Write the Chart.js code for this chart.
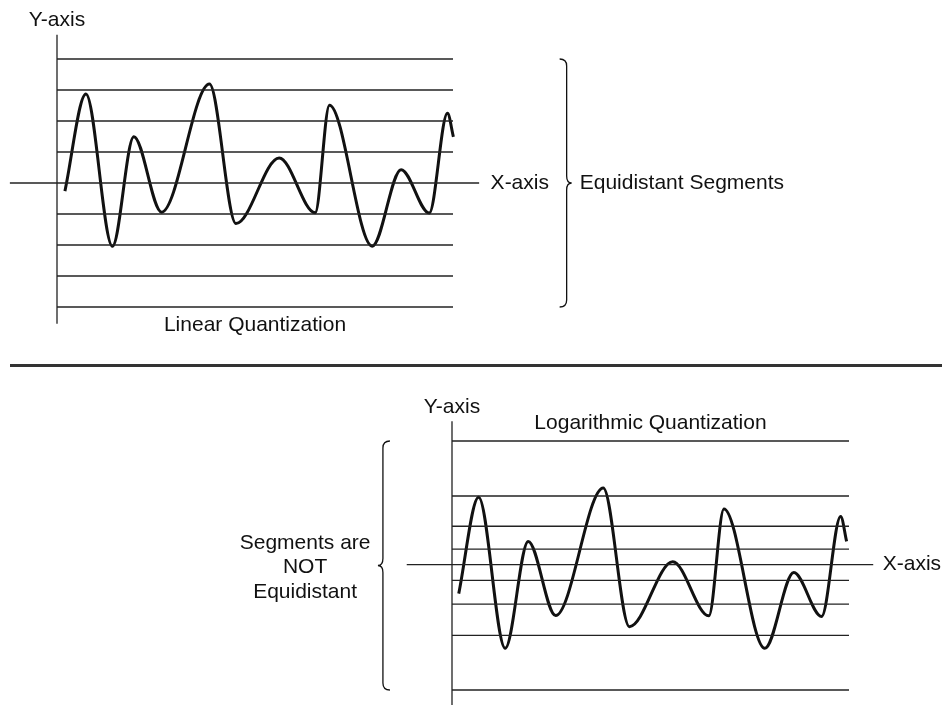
<!DOCTYPE html>
<html>
<head>
<meta charset="utf-8">
<title>Linear vs Logarithmic Quantization</title>
<script src="https://cdn.jsdelivr.net/npm/chart.js@4.4.1/dist/chart.umd.min.js"></script>
<style>
  html, body { margin: 0; padding: 0; background: #fff; }
  #wrap { position: relative; width: 942px; height: 705px; overflow: hidden; }
  .panel { position: absolute; left: 0; width: 942px; }
  #rule { position: absolute; left: 10px; top: 364px; width: 932px; height: 3px; background: #333; }
</style>
</head>
<body>
<div id="wrap">
  <div class="panel" style="top:0;height:372px"><canvas id="linChart"></canvas></div>
  <div id="rule"></div>
  <div class="panel" style="top:372px;height:333px"><canvas id="logChart"></canvas></div>
</div>
<script>
// Turning points of the sampled signal, time 0..10 spans the plot width
const linTimes  = [0.20, 0.73, 1.40, 1.94, 2.64, 3.85, 4.52, 5.61, 6.52, 6.88, 7.96, 8.69, 9.40, 9.86, 10.01];
const linValues = [-0.26, 2.87, -2.04, 1.49, -0.94, 3.19, -1.31, 0.81, -0.96, 2.51, -2.04, 0.43, -0.97, 2.25, 1.49];
// quantization levels (equidistant)
const linLevels = [4, 3, 2, 1, -1, -2, -3, -4];

const logTimes  = [0.17, 0.67, 1.34, 1.92, 2.61, 3.81, 4.47, 5.56, 6.47, 6.85, 7.88, 8.61, 9.31, 9.79, 9.94];
const logValues = [-0.94, 2.18, -2.71, 0.75, -1.65, 2.48, -2.01, 0.09, -1.66, 1.80, -2.71, -0.26, -1.68, 1.56, 0.75];
// quantization levels (not equidistant)
const logLevels = [4, 2.22, 1.24, 0.5, -0.51, -1.28, -2.29, -4.06];

const FONT = '21px "Liberation Sans", Arial, Helvetica, sans-serif';
const INK = '#111';

function pts(xs, ys) {
    return xs.map((x, i) => ({ x: x, y: ys[i] }));
}

// one straight segment in data units
function segment(a, b, width, color) {
    return { data: [a, b], borderColor: color, borderWidth: width, clip: false, tension: 0 };
}

// curly brace, tip pointing "dir" (1 = right, -1 = left)
function drawBrace(ctx, x, y1, y2, dir) {
    const r = 7, mid = (y1 + y2) / 2;
    ctx.beginPath();
    ctx.moveTo(x - dir * r, y1);
    ctx.quadraticCurveTo(x, y1, x, y1 + r);
    ctx.lineTo(x, mid - r);
    ctx.quadraticCurveTo(x, mid, x + dir * 5, mid);
    ctx.quadraticCurveTo(x, mid, x, mid + r);
    ctx.lineTo(x, y2 - r);
    ctx.quadraticCurveTo(x, y2, x - dir * r, y2);
    ctx.stroke();
}

const notesPlugin = {
    id: 'notes',
    afterDatasetsDraw(chart, args, opts) {
        const ctx = chart.ctx, sx = chart.scales.x, sy = chart.scales.y;
        ctx.save();
        ctx.fillStyle = INK;
        ctx.strokeStyle = INK;
        ctx.lineWidth = 1.3;
        ctx.font = FONT;
        (opts.labels || []).forEach(l => {
            ctx.textAlign = l.align || 'center';
            ctx.textBaseline = l.baseline || 'alphabetic';
            ctx.fillText(l.text, sx.getPixelForValue(l.t), sy.getPixelForValue(l.v));
        });
        (opts.braces || []).forEach(b => {
            drawBrace(ctx, sx.getPixelForValue(b.t), sy.getPixelForValue(b.top),
                      sy.getPixelForValue(b.bottom), b.dir);
        });
        ctx.restore();
    }
};

function makeChart(id, cfg) {
    const datasets = [];
    cfg.levels.forEach(v => datasets.push(segment({ x: 0, y: v }, { x: 10, y: v }, 1.3, '#222')));
    datasets.push(segment({ x: cfg.xAxis[0], y: 0 }, { x: cfg.xAxis[1], y: 0 }, 1.3, '#222'));
    datasets.push(segment({ x: 0, y: cfg.yAxis[0] }, { x: 0, y: cfg.yAxis[1] }, 1.3, '#222'));
    datasets.push({
        data: pts(cfg.times, cfg.values),
        borderColor: INK,
        borderWidth: 3,
        cubicInterpolationMode: 'monotone',
        borderJoinStyle: 'round',
        clip: false
    });
    return new Chart(document.getElementById(id), {
        type: 'line',
        data: { datasets: datasets },
        options: {
            responsive: true,
            maintainAspectRatio: false,
            animation: false,
            events: [],
            layout: { padding: cfg.padding },
            elements: { point: { radius: 0 } },
            scales: {
                x: { type: 'linear', display: false, min: 0, max: 10 },
                y: { type: 'linear', display: false, min: cfg.yRange[0], max: cfg.yRange[1] }
            },
            plugins: {
                legend: { display: false },
                tooltip: { enabled: false },
                notes: { labels: cfg.labels, braces: cfg.braces }
            }
        },
        plugins: [notesPlugin]
    });
}

makeChart('linChart', {
    times: linTimes, values: linValues, levels: linLevels,
    xAxis: [-1.19, 10.66], yAxis: [4.78, -4.54],
    yRange: [-4, 4],
    padding: { left: 57, right: 489, top: 59, bottom: 65 },
    labels: [
        { text: 'Y-axis', t: 0, v: 5.07 },
        { text: 'X-axis', t: 10.95, v: 0, align: 'left', baseline: 'middle' },
        { text: 'Equidistant Segments', t: 13.2, v: 0, align: 'left', baseline: 'middle' },
        { text: 'Linear Quantization', t: 5, v: -4.77 }
    ],
    braces: [{ t: 12.87, top: 4, bottom: -4, dir: 1 }]
});

makeChart('logChart', {
    times: logTimes, values: logValues, levels: logLevels,
    xAxis: [-1.14, 10.61], yAxis: [4.64, -4.7],
    yRange: [-4.06, 4],
    padding: { left: 452, right: 93, top: 69, bottom: 15 },
    labels: [
        { text: 'Y-axis', t: 0, v: 4.92 },
        { text: 'Logarithmic Quantization', t: 5, v: 4.4 },
        { text: 'X-axis', t: 10.85, v: 0, align: 'left', baseline: 'middle' },
        { text: 'Segments are', t: -3.7, v: 0.52 },
        { text: 'NOT', t: -3.7, v: -0.27 },
        { text: 'Equidistant', t: -3.7, v: -1.08 }
    ],
    braces: [{ t: -1.74, top: 4, bottom: -4.06, dir: -1 }]
});
</script>
</body>
</html>
